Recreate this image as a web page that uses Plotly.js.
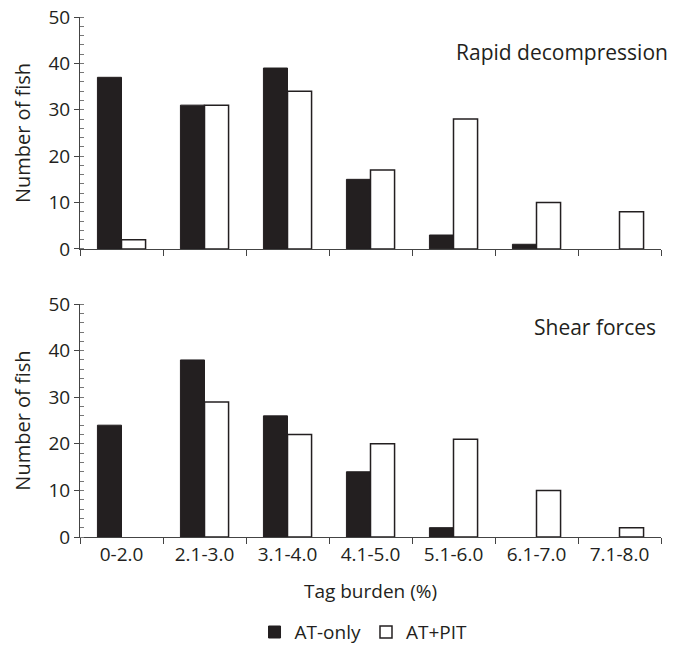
<!DOCTYPE html>
<html>
<head>
<meta charset="utf-8">
<script src="https://cdn.plot.ly/plotly-3.0.1.min.js"></script>
<style>html,body{margin:0;padding:0;background:#fff;}#chart{width:686px;height:648px;}</style>
</head>
<body>
<div id="chart"></div>
<script>
const categories = ["0-2.0", "2.1-3.0", "3.1-4.0", "4.1-5.0", "5.1-6.0", "6.1-7.0", "7.1-8.0"];
const rapidATonly = [37, 31, 39, 15, 3, 1, 0];
const rapidATPIT = [2, 31, 34, 17, 28, 10, 8];
const shearATonly = [24, 38, 26, 14, 2, 0, 0];
const shearATPIT = [0, 29, 22, 20, 21, 10, 2];
const seriesNames = ["AT-only", "AT+PIT"];
const panelLabels = ["Rapid decompression", "Shear forces"];

const ink = "#231f20";
const fontFam = "Open Sans, Noto Sans, sans-serif";

// zero counts draw no bar outline
const nz = (arr) => arr.map(v => (v === 0 ? null : v));

const blackBar = {color: ink, line: {color: ink, width: 1}};
const whiteBar = {color: "#ffffff", line: {color: ink, width: 1.5}};

const data = [
  {type: "bar", x: categories, y: nz(rapidATonly), name: seriesNames[0], marker: blackBar, xaxis: "x", yaxis: "y", legendgroup: "a"},
  {type: "bar", x: categories, y: nz(rapidATPIT), name: seriesNames[1], marker: whiteBar, xaxis: "x", yaxis: "y", legendgroup: "b"},
  {type: "bar", x: categories, y: nz(shearATonly), name: seriesNames[0], marker: blackBar, xaxis: "x2", yaxis: "y2", legendgroup: "a", showlegend: false},
  {type: "bar", x: categories, y: nz(shearATPIT), name: seriesNames[1], marker: whiteBar, xaxis: "x2", yaxis: "y2", legendgroup: "b", showlegend: false}
];

const yax = (domain) => ({
  domain: domain, range: [0, 50], dtick: 10, tick0: 0,
  showline: true, linecolor: "#444", linewidth: 1,
  ticks: "outside", ticklen: 5, tickcolor: "#444",
  minor: {dtick: 2, ticks: "inside", ticklen: 4, tickcolor: "#777"},
  showgrid: false, zeroline: false,
  tickfont: {family: fontFam, size: 19, color: ink},
  title: {text: "Number of fish", font: {family: fontFam, size: 20, color: ink}, standoff: 12},
  fixedrange: true
});
const xax = (anchor, labels) => ({
  anchor: anchor, type: "category",
  showline: true, linecolor: "#444", linewidth: 1,
  ticks: "outside", ticklen: 6, tickcolor: "#444", tickson: "boundaries",
  showgrid: false, zeroline: false,
  showticklabels: labels,
  tickfont: {family: fontFam, size: 19, color: ink},
  fixedrange: true
});

const layout = {
  width: 686, height: 648,
  margin: {l: 80, r: 25, t: 17, b: 111, autoexpand: false},
  paper_bgcolor: "#fff", plot_bgcolor: "#fff",
  barmode: "group", bargap: 0.42, bargroupgap: 0,
  font: {family: fontFam, color: ink},
  xaxis: Object.assign(xax("y", false), {matches: "x2"}),
  yaxis: yax([0.554, 1]),
  xaxis2: Object.assign(xax("y2", true), {title: {text: "Tag burden (%)", font: {family: fontFam, size: 19, color: ink}, standoff: 18}}),
  yaxis2: yax([0, 0.448]),
  showlegend: true,
  legend: {orientation: "h", x: 0.488, xanchor: "center", y: -0.183, yanchor: "middle",
           font: {family: fontFam, size: 19, color: ink}, itemwidth: 30, tracegroupgap: 0},
  annotations: [
    {text: panelLabels[0], xref: "paper", yref: "paper", x: 1.016, y: 0.933, xanchor: "right", yanchor: "middle", showarrow: false, font: {family: fontFam, size: 21, color: ink}},
    {text: panelLabels[1], xref: "paper", yref: "paper", x: 0.995, y: 0.404, xanchor: "right", yanchor: "middle", showarrow: false, font: {family: fontFam, size: 21, color: ink}}
  ]
};

Plotly.newPlot("chart", data, layout, {staticPlot: true, displayModeBar: false});
</script>
</body>
</html>
